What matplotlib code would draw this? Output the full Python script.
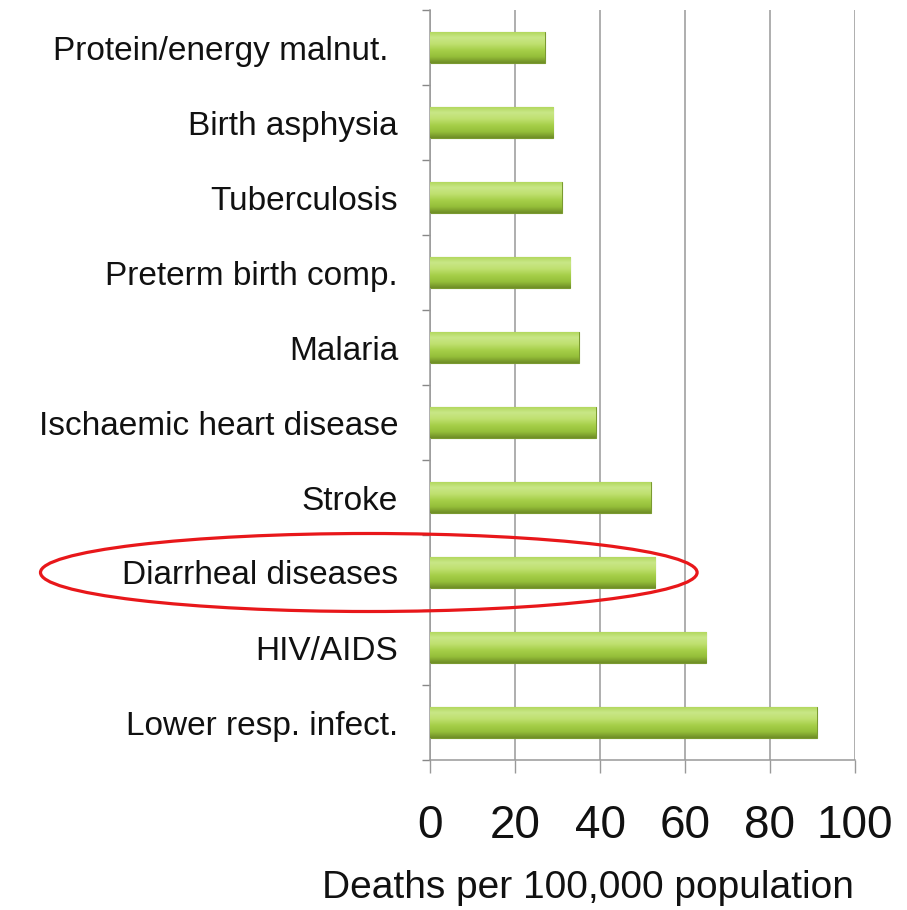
import matplotlib
matplotlib.use("Agg")
import matplotlib.pyplot as plt
import numpy as np
from matplotlib.patches import Ellipse
from matplotlib.colors import LinearSegmentedColormap

plt.rcParams['font.family'] = ['Liberation Sans', 'DejaVu Sans']

categories = ["Lower resp. infect.", "HIV/AIDS", "Diarrheal diseases", "Stroke",
              "Ischaemic heart disease", "Malaria", "Preterm birth comp.",
              "Tuberculosis", "Birth asphysia", "Protein/energy malnut. "]
values = [91, 65, 53, 52, 39, 35, 33, 31, 29, 27]
xticks = [0, 20, 40, 60, 80, 100]
highlight = "Diarrheal diseases"

fig = plt.figure(figsize=(9.07, 9.10), dpi=100)
ax = fig.add_axes([430/907, 1-760/910, 425/907, 750/910])

y = np.arange(len(categories))
bars = ax.barh(y, values, height=0.42, color="#a0c845", edgecolor="none", zorder=2)

cmap = LinearSegmentedColormap.from_list("g", ["#6e8c26", "#95bf3a", "#a6cf49", "#bfe070", "#c9e787", "#aed556"])
grad = np.linspace(0, 1, 256).reshape(-1, 1)
for b in bars:
    x0, y0 = b.get_x(), b.get_y()
    w, h = b.get_width(), b.get_height()
    im = ax.imshow(grad, extent=[x0, x0 + w, y0, y0 + h], origin="lower",
                   cmap=cmap, aspect="auto", zorder=3, interpolation="bicubic")
    im.set_clip_path(b)
    b.set_edgecolor("#7a9a30")
    b.set_linewidth(0.8)

ax.set_xlim(0, 100)
ax.set_ylim(-0.5, len(categories) - 0.5)
ax.set_xticks(xticks)
ax.set_xticklabels([str(t) for t in xticks], fontsize=33)
ax.set_yticks(y)
ax.set_yticklabels(categories, fontsize=24)
ax.set_yticks(np.arange(-0.5, len(categories), 1), minor=True)
ax.tick_params(axis='y', which='major', length=0, pad=23, colors="#111111")
ax.tick_params(axis='y', which='minor', length=6, width=1, color="#888888")
ax.tick_params(axis='x', which='major', length=9, width=1, color="#999999", pad=23, labelcolor="#111111")

ax.grid(axis='x', color="#999999", linewidth=1.1, zorder=0)
ax.set_axisbelow(True)
for s in ['top', 'right']:
    ax.spines[s].set_visible(False)
for s in ['left', 'bottom']:
    ax.spines[s].set_color("#999999")
    ax.spines[s].set_linewidth(1.1)

fig.text(588/907, 1-888/910, "Deaths per 100,000 population", fontsize=28,
         ha="center", va="center", color="#111111")

hi = categories.index(highlight)
ell = Ellipse((-14.4, hi), width=154.5, height=1.04, fill=False, edgecolor="#e8171a",
              linewidth=2.3, clip_on=False, zorder=5)
ax.add_patch(ell)

fig.savefig("out.png", dpi=100)
